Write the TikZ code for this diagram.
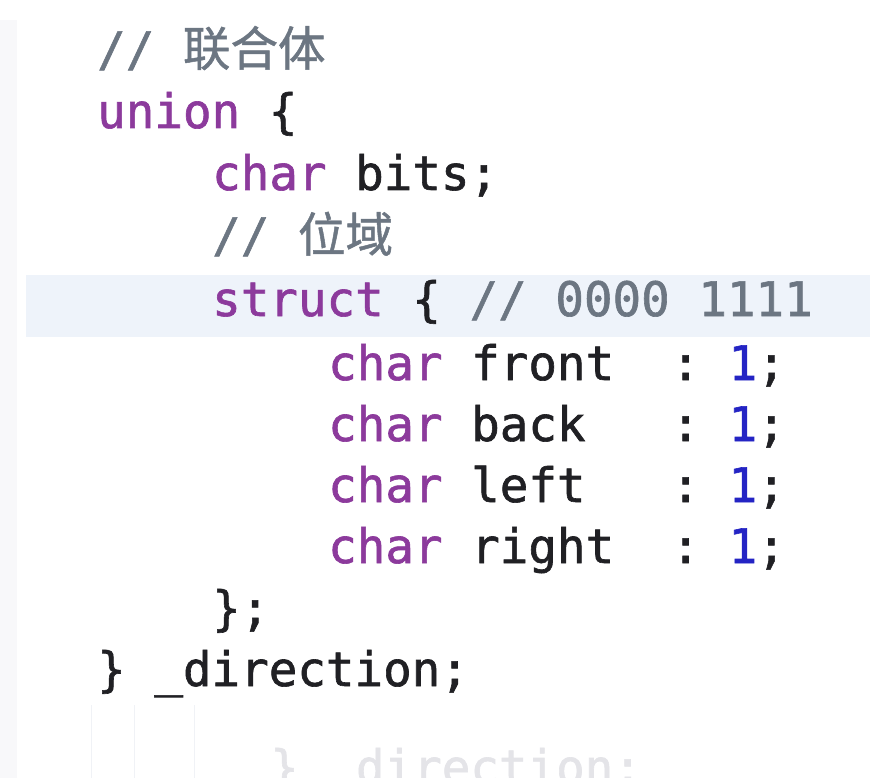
\documentclass[tikz,border=0pt]{standalone}
\usepackage{fontspec}
\setmonofont[FakeBold=1.3]{DejaVu Sans Mono}
\newfontfamily\cjk[FakeBold=1]{Noto Sans CJK SC}
\definecolor{kw}{RGB}{140,58,156}
\definecolor{cm}{RGB}{108,118,130}
\definecolor{num}{RGB}{36,36,196}
\definecolor{txt}{RGB}{32,32,36}
\definecolor{hl}{RGB}{238,243,250}
\definecolor{ghost}{RGB}{228,228,232}
\definecolor{guide}{RGB}{240,242,246}
\definecolor{side}{RGB}{248,248,250}
\newcommand{\kw}[1]{\textcolor{kw}{#1}}
\newcommand{\cm}[1]{\textcolor{cm}{#1}}
\newcommand{\nm}[1]{\textcolor{num}{#1}}
\begin{document}
\begin{tikzpicture}[x=1pt,y=-1pt,
  code/.style={anchor=base west, inner sep=0pt, font=\fontsize{47.5}{50}\selectfont\ttfamily, text=txt},
  ghosttext/.style={code, text=ghost}]
\useasboundingbox (0,0) rectangle (870,778);
\clip (0,0) rectangle (870,778);
\fill[white] (0,0) rectangle (870,778);
% left sidebar remnant
\fill[side] (0,20) rectangle (17,778);
% highlighted line
\fill[hl] (26,275) rectangle (870,337);
% code lines
\node[code] (c1) at (97,66) {\cm{//~{\cjk 联合体}}};
\node[code] (c2) at (97,128) {\kw{union}~\{};
\node[code] (c3) at (212,190) {\kw{char}~bits;};
\node[code] (c4) at (212,252) {\cm{//~{\cjk 位域}}};
\node[code] (c5) at (212,316) {\kw{struct}~\{~\cm{//~0000~1111}};
\node[code] (c6) at (328,380) {\kw{char}~front~~:~\nm{1};};
\node[code] (c7) at (328,441) {\kw{char}~back~~~:~\nm{1};};
\node[code] (c8) at (328,502) {\kw{char}~left~~~:~\nm{1};};
\node[code] (c9) at (328,563) {\kw{char}~right~~:~\nm{1};};
\node[code] (c10) at (212,625) {\};};
\node[code] (c11) at (97,686) {\}~\_direction;};
% faint ghost of the next frame
\draw[guide, line width=1pt] (91,705) -- (91,778);
\draw[guide, line width=1pt] (134,705) -- (134,778);
\draw[guide, line width=1pt] (194,705) -- (194,778);
\node[ghosttext] (g1) at (270,784) {\}~\_direction;};
\end{tikzpicture}
\end{document}
